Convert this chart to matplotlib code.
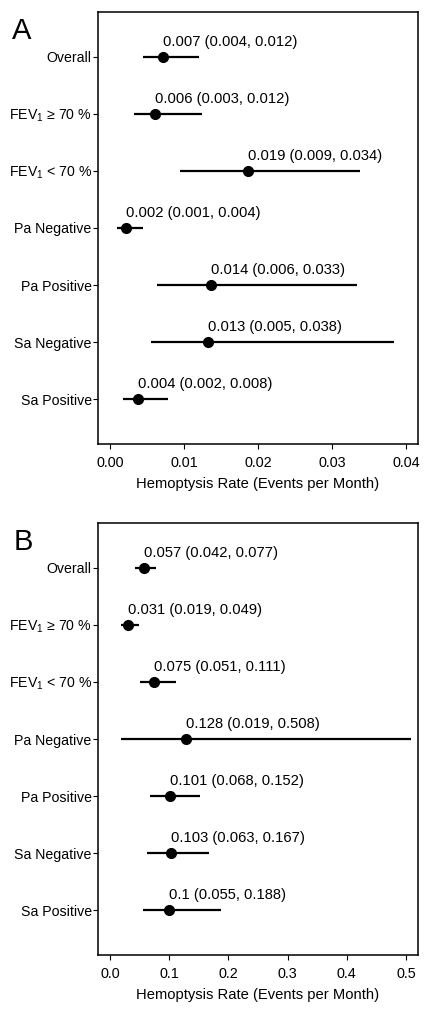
import matplotlib
matplotlib.use("Agg")
import matplotlib.pyplot as plt

plt.rcParams['font.family'] = ['Liberation Sans', 'DejaVu Sans']
plt.rcParams['mathtext.fontset'] = 'custom'
plt.rcParams['mathtext.rm'] = 'Liberation Sans'
plt.rcParams['mathtext.it'] = 'Liberation Sans:italic'

groups = ["Overall", "FEV$_1$ ≥ 70 %", "FEV$_1$ < 70 %", "Pa Negative",
          "Pa Positive", "Sa Negative", "Sa Positive"]

# panel A
est_a = [0.0072, 0.0061, 0.0187, 0.0022, 0.0136, 0.0133, 0.0038]
lo_a = [0.0044, 0.0032, 0.0094, 0.0010, 0.0063, 0.0055, 0.0018]
hi_a = [0.0120, 0.0124, 0.0337, 0.0044, 0.0334, 0.0384, 0.0079]
lab_a = ["0.007 (0.004, 0.012)", "0.006 (0.003, 0.012)", "0.019 (0.009, 0.034)",
         "0.002 (0.001, 0.004)", "0.014 (0.006, 0.033)", "0.013 (0.005, 0.038)",
         "0.004 (0.002, 0.008)"]
ticks_a = [0.00, 0.01, 0.02, 0.03, 0.04]
ticklab_a = ["0.00", "0.01", "0.02", "0.03", "0.04"]

# panel B
est_b = [0.057, 0.031, 0.075, 0.128, 0.101, 0.103, 0.100]
lo_b = [0.042, 0.019, 0.051, 0.019, 0.068, 0.063, 0.055]
hi_b = [0.077, 0.049, 0.111, 0.508, 0.152, 0.167, 0.188]
lab_b = ["0.057 (0.042, 0.077)", "0.031 (0.019, 0.049)", "0.075 (0.051, 0.111)",
         "0.128 (0.019, 0.508)", "0.101 (0.068, 0.152)", "0.103 (0.063, 0.167)",
         "0.1 (0.055, 0.188)"]
ticks_b = [0.0, 0.1, 0.2, 0.3, 0.4, 0.5]
ticklab_b = ["0.0", "0.1", "0.2", "0.3", "0.4", "0.5"]

W, H = 434, 1014
fig = plt.figure(figsize=(W / 100, H / 100), dpi=100)


def panel(top_px, est, lo, hi, labs, ticks, ticklabs, xlim, letter, letter_x):
    ax = fig.add_axes([98 / W, 1 - (top_px + 432) / H, 320 / W, 432 / H])
    n = len(est)
    ys = list(range(n, 0, -1))
    ax.hlines(ys, lo, hi, color="black", lw=1.6)
    ax.plot(est, ys, "o", color="black", ms=7)
    for x, y, s in zip(est, ys, labs):
        ax.annotate(s, (x, y), xytext=(0, 8), textcoords="offset points",
                    ha="left", va="baseline", fontsize=10.6)
    ax.set_ylim(1 - 0.787, n + 0.787)
    ax.set_xlim(*xlim)
    ax.set_yticks(ys)
    ax.set_yticklabels(groups, fontsize=10.2)
    ax.set_xticks(ticks)
    ax.set_xticklabels(ticklabs, fontsize=10.4)
    ax.tick_params(direction="out", length=3.5, width=0.8, pad=1)
    ax.tick_params(axis="x", pad=5)
    for sp in ax.spines.values():
        sp.set_linewidth(1.1)
    ax.set_xlabel("Hemoptysis Rate (Events per Month)", fontsize=10.6, labelpad=5)
    fig.text(letter_x / W, 1 - (top_px + 27) / H, letter, fontsize=21, va="baseline")
    return ax


panel(12, est_a, lo_a, hi_a, lab_a, ticks_a, ticklab_a, (-0.00162, 0.0416), "A", 12)
panel(523, est_b, lo_b, hi_b, lab_b, ticks_b, ticklab_b, (-0.0203, 0.5203), "B", 14)

fig.savefig("out.png", dpi=100)
